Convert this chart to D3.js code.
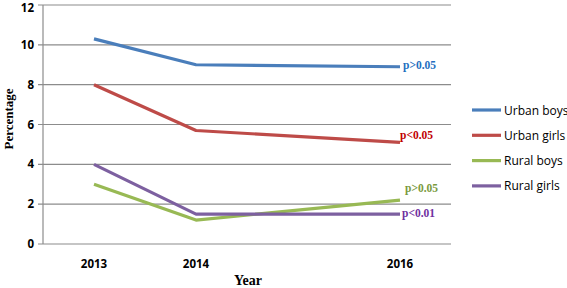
<!DOCTYPE html>
<html><head><meta charset="utf-8">
<script src="https://cdn.jsdelivr.net/npm/d3@7"></script>
<style>body{margin:0;background:#fff}svg{display:block}</style>
</head><body>
<svg id="c" width="567" height="288"></svg>
<script>
const years = [2013, 2014, 2016];
const seriesNames = ["Urban boys", "Urban girls", "Rural boys", "Rural girls"];
const urbanBoys = [10.3, 9.0, 8.9];
const urbanGirls = [8.0, 5.7, 5.1];
const ruralBoys = [3.0, 1.2, 2.2];
const ruralGirls = [4.0, 1.5, 1.5];
const pLabels = ["p>0.05", "p<0.05", "p>0.05", "p<0.01"];
const yTicks = [0, 2, 4, 6, 8, 10, 12];
const xTicks = [2013, 2014, 2016];

const lineColors = ["#4a7ebb", "#be4b48", "#98b954", "#7d60a0"];
const labelColors = ["#1f6fbf", "#c00000", "#7a9a3c", "#7030a0"];
const allValues = [urbanBoys, urbanGirls, ruralBoys, ruralGirls];

const svg = d3.select("#c");
const x = d3.scaleLinear().domain([2012.5, 2016.5]).range([43, 451]);
const y = d3.scaleLinear().domain([0, 12]).range([244, 5]);

svg.append("g").selectAll("line").data(yTicks).join("line")
  .attr("x1", 38).attr("x2", 451)
  .attr("y1", d => y(d)).attr("y2", d => y(d))
  .attr("stroke", "#8c8c8c").attr("stroke-width", 1.2);
svg.append("line").attr("x1", 43).attr("x2", 43).attr("y1", y(12)).attr("y2", y(0))
  .attr("stroke", "#8c8c8c").attr("stroke-width", 1.2);

svg.append("g").selectAll("text").data(yTicks).join("text")
  .attr("x", 34).attr("y", d => Math.max(y(d) + 4, 12))
  .attr("text-anchor", "end")
  .attr("font-family", "Open Sans, Liberation Sans, sans-serif")
  .attr("font-weight", "bold").attr("font-size", 11.5).attr("fill", "#000")
  .text(d => d);

svg.append("g").selectAll("text").data(xTicks).join("text")
  .attr("x", d => x(d)).attr("y", 268)
  .attr("text-anchor", "middle")
  .attr("font-family", "Open Sans, Liberation Sans, sans-serif")
  .attr("font-weight", "bold").attr("font-size", 11.5).attr("fill", "#000")
  .text(d => d);

svg.append("text").attr("x", 248).attr("y", 285).attr("text-anchor", "middle")
  .attr("font-family", "Liberation Serif, serif").attr("font-weight", "bold")
  .attr("font-size", 14).text("Year");
svg.append("text").attr("transform", "translate(13,119) rotate(-90)").attr("text-anchor", "middle")
  .attr("font-family", "Liberation Serif, serif").attr("font-weight", "bold")
  .attr("font-size", 13).text("Percentage");

const line = d3.line().x((d, i) => x(years[i])).y(d => y(d));
svg.append("g").selectAll("path").data(allValues).join("path")
  .attr("d", d => line(d)).attr("fill", "none")
  .attr("stroke", (d, i) => lineColors[i]).attr("stroke-width", 3.2)
  .attr("stroke-linejoin", "round");

const pOffsets = [[3, 2], [0, -3], [5, -8], [2, 3]];
svg.append("g").selectAll("text").data(allValues).join("text")
  .attr("x", (d, i) => x(years[2]) + pOffsets[i][0])
  .attr("y", (d, i) => y(d[2]) + pOffsets[i][1])
  .attr("font-family", "Liberation Serif, serif").attr("font-weight", "bold")
  .attr("font-size", 11.5).attr("fill", (d, i) => labelColors[i])
  .text((d, i) => pLabels[i]);

const lg = svg.append("g").selectAll("g").data(seriesNames).join("g")
  .attr("transform", (d, i) => `translate(472,${110 + i * 25.3})`);
lg.append("line").attr("x1", 0).attr("x2", 29).attr("y1", 0).attr("y2", 0)
  .attr("stroke", (d, i) => lineColors[i]).attr("stroke-width", 3.2);
lg.append("text").attr("x", 32).attr("y", 4.5)
  .attr("font-family", "Open Sans, Liberation Sans, sans-serif")
  .attr("font-size", 12).attr("fill", "#000").text(d => d);
</script>
</body></html>
